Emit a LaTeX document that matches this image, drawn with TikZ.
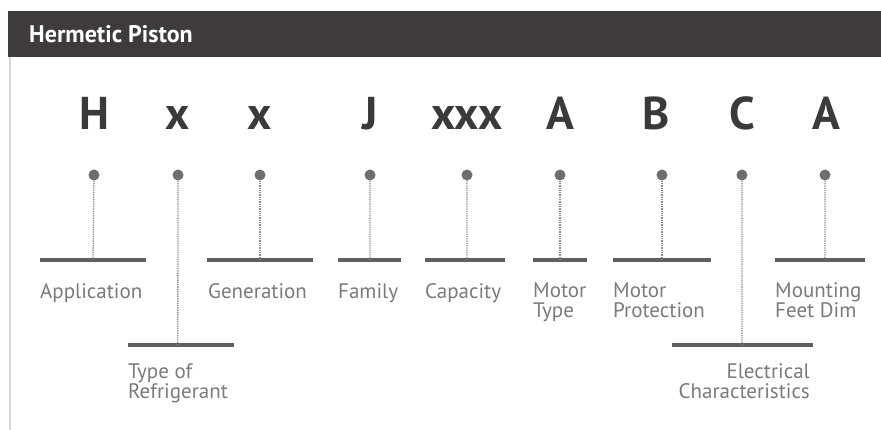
\documentclass[tikz,border=0pt]{standalone}
\usepackage{fontspec}
\setmainfont{PT Sans}
\definecolor{hdrgray}{HTML}{3F3B3C}
\definecolor{codegray}{HTML}{3A3A3A}
\definecolor{pingray}{HTML}{6E6E6E}
\definecolor{bargray}{HTML}{606060}
\definecolor{lblgray}{HTML}{7A7A7A}
\definecolor{edgegray}{HTML}{D8D8D8}
\begin{document}
\begin{tikzpicture}[x=1pt,y=-1pt,
    code/.style={font=\fontsize{46}{46}\selectfont\bfseries, text=codegray, anchor=base, inner sep=0pt},
    pin/.style={circle, fill=pingray, inner sep=0pt, minimum size=11pt},
    stem/.style={pingray!80, densely dotted, line width=1.3pt},
    bar/.style={bargray, line width=3.5pt},
    lbl/.style={font=\fontsize{21}{20}\selectfont, text=lblgray, inner sep=0pt, align=left, anchor=base west}]
    \useasboundingbox (0,0) rectangle (881,430);
    \fill[hdrgray] (8,11) rectangle (881,57);
    \draw[edgegray, line width=1.5pt] (10,57) -- (10,430);
    \node[anchor=base west, inner sep=0pt, text=white, font=\fontsize{24}{24}\selectfont\bfseries] (title) at (29,43) {Hermetic Piston};

    \node[code] (cH) at (94,130) {H};
    \node[code] (cX1) at (178,130) {x};
    \node[code] (cX2) at (260,130) {x};
    \node[code] (cJ) at (370,130) {J};
    \node[code] (cXXX) at (467,130) {xxx};
    \node[code] (cA1) at (560,130) {A};
    \node[code] (cB) at (656,130) {B};
    \node[code] (cC) at (742,130) {C};
    \node[code] (cA2) at (826,130) {A};

    \node[pin] (pH) at (94,175) {};
    \node[pin] (pX1) at (178,175) {};
    \node[pin] (pX2) at (260,175) {};
    \node[pin] (pJ) at (370,175) {};
    \node[pin] (pXXX) at (467,175) {};
    \node[pin] (pA1) at (560,175) {};
    \node[pin] (pB) at (662,175) {};
    \node[pin] (pC) at (742,175) {};
    \node[pin] (pA2) at (825,175) {};

    \draw[bar] (40,260) -- (146,260) coordinate[pos=0.5] (bApp);
    \draw[bar] (128,345) -- (234,345) coordinate[pos=0.47] (bRef);
    \draw[bar] (207,260) -- (313,260) coordinate[pos=0.5] (bGen);
    \draw[bar] (338,260) -- (401,260) coordinate[pos=0.508] (bFam);
    \draw[bar] (425,260) -- (505,260) coordinate[pos=0.525] (bCap);
    \draw[bar] (533,260) -- (587,260) coordinate[pos=0.5] (bMot);
    \draw[bar] (613,260) -- (711,260) coordinate[pos=0.5] (bPro);
    \draw[bar] (672,345) -- (813,345) coordinate[pos=0.496] (bEle);
    \draw[bar] (775,260) -- (865,260) coordinate[pos=0.555] (bMnt);

    \draw[stem] (pH) -- (bApp);
    \draw[stem] (pX1) -- (bRef);
    \draw[stem] (pX2) -- (bGen);
    \draw[stem] (pJ) -- (bFam);
    \draw[stem] (pXXX) -- (bCap);
    \draw[stem] (pA1) -- (bMot);
    \draw[stem] (pB) -- (bPro);
    \draw[stem] (pC) -- (bEle);
    \draw[stem] (pA2) -- (bMnt);

    \node[lbl] (lApp) at (40,299) {Application};
    \node[lbl] (lRef) at (128,398) {Type of\\Refrigerant};
    \node[lbl] (lGen) at (208,299) {Generation};
    \node[lbl] (lFam) at (338,299) {Family};
    \node[lbl] (lCap) at (425,299) {Capacity};
    \node[lbl] (lMot) at (533,318) {Motor\\Type};
    \node[lbl] (lPro) at (613,318) {Motor\\Protection};
    \node[lbl, align=right, anchor=base east] (lEle) at (810,398) {Electrical\\Characteristics};
    \node[lbl] (lMnt) at (775,318) {Mounting\\Feet Dim};
\end{tikzpicture}
\end{document}
